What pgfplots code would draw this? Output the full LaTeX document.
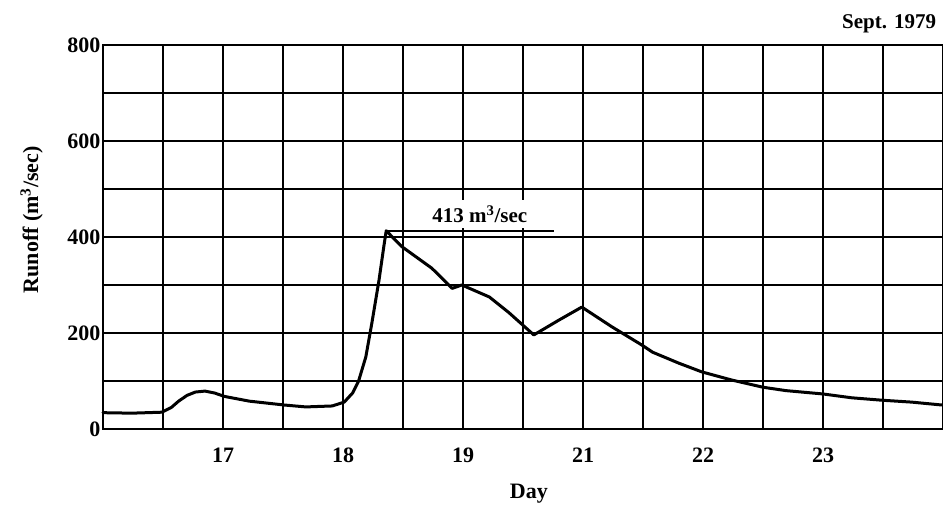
\documentclass[border=0pt]{standalone}
\usepackage{fontspec}
\setmainfont{Liberation Serif}
\usepackage{pgfplots}
\pgfplotsset{compat=1.18}

\newcommand{\chartfont}{\fontsize{22}{26}\selectfont\bfseries}
\newcommand{\notefont}{\fontsize{21}{25}\selectfont\bfseries}

\begin{document}
\begin{tikzpicture}
\begin{axis}[
  scale only axis,
  width=840pt, height=384pt,
  xmin=16, xmax=23,
  ymin=0, ymax=800,
  xtick={17,18,19,20,21,22},
  xticklabels={17,18,19,21,22,23},
  minor xtick={16.5,17.5,18.5,19.5,20.5,21.5,22.5},
  ytick={0,200,400,600,800},
  minor ytick={100,300,500,700},
  grid=both,
  major grid style={black, line width=1.7pt},
  minor grid style={black, line width=1.7pt},
  major tick length=0pt, minor tick length=0pt,
  axis line style={black, line width=2.4pt},
  /pgf/number format/assume math mode=true,
  tick label style={font=\chartfont},
  xticklabel style={yshift=-15pt},
  yticklabel style={xshift=1pt},
  xlabel={Day},
  ylabel={Runoff (m\textsuperscript{3}/sec)},
  label style={font=\chartfont},
  xlabel style={at={(axis description cs:0.507,-0.18)}, anchor=base},
  ylabel style={at={(axis description cs:-0.085,0.545)}, anchor=center},
  clip=false,
]
% daily runoff hydrograph
\addplot[black, line width=3pt, line join=round, line cap=round] coordinates {
  (16.00,34) (16.24,33) (16.49,35) (16.57,45) (16.63,58) (16.70,70)
  (16.77,77) (16.85,79) (16.93,75) (17.01,68) (17.22,58) (17.51,50)
  (17.69,46) (17.91,48) (18.01,56) (18.08,75) (18.13,100) (18.19,150)
  (18.24,220) (18.30,310) (18.34,380) (18.36,413) (18.49,380) (18.74,335)
  (18.91,293) (18.99,300) (19.22,275) (19.38,243) (19.59,196) (19.80,227)
  (19.99,254) (20.24,213) (20.49,175) (20.58,160) (20.80,137) (20.99,119)
  (21.24,102) (21.50,87) (21.69,80) (22.00,73) (22.24,65) (22.49,60)
  (22.74,56) (22.99,50)
};
% peak annotation on a white patch, then its leader line
\node[font=\notefont, anchor=base, fill=white, inner xsep=8pt, inner ysep=5pt]
  at (axis cs:19.14,430) {413 m\textsuperscript{3}/sec};
\draw[black, line width=1.6pt] (axis cs:18.36,413) -- (axis cs:19.76,413);
\node[font=\notefont, anchor=base east] at (axis description cs:0.996,1.044) {Sept. 1979};
\end{axis}
\pgfresetboundingbox
\useasboundingbox ([shift={(-103pt,-88pt)}]current axis.south west) rectangle ([shift={(0pt,45pt)}]current axis.north east);
\end{tikzpicture}
\end{document}
